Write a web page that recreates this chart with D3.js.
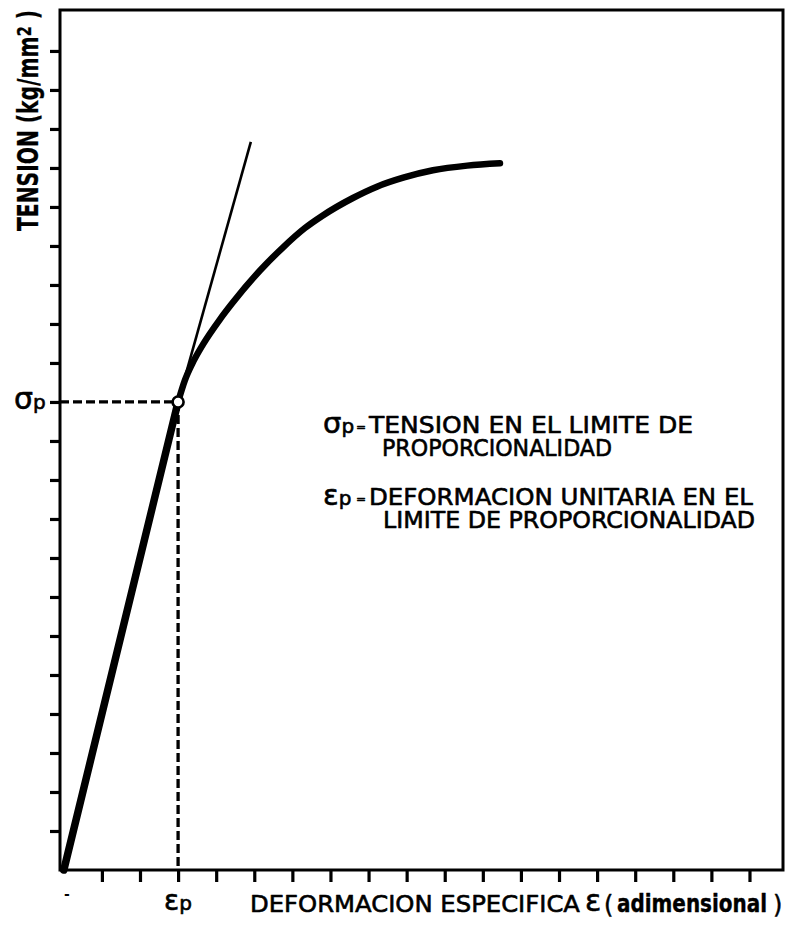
<!DOCTYPE html>
<html>
<head>
<meta charset="utf-8">
<script src="https://cdn.jsdelivr.net/npm/d3@7"></script>
<style>
  body { margin: 0; background: #fff; }
  svg { display: block; }
  text { fill: #000; }
</style>
</head>
<body>
<svg id="chart" width="787" height="931"></svg>
<script>
// Tick positions (arbitrary units) on both axes
const xTickValues = [1, 2, 3, 4, 5, 6, 7, 8, 9, 10, 11, 12, 13, 14, 15, 16, 17, 18];
const yTickValues = [1, 2, 3, 4, 5, 6, 7, 8, 9, 10, 11, 12, 13, 14, 15, 16, 17, 18, 19, 20, 21];

// Proportional limit
const epsP = 3;
const sigmaP = 12;

// Linear (elastic) branch
const elasticStrain = [0, 3];
const elasticStress = [0, 12];

// Curved branch beyond the proportional limit
const plasticStrain = [3, 3.18, 3.37, 3.65, 4.10, 4.42, 5.15, 5.75, 6.33, 6.78, 7.59, 8.22, 8.91, 9.69, 10.59, 11.45];
const plasticStress = [12, 12.56, 12.98, 13.47, 14.12, 14.53, 15.37, 15.96, 16.46, 16.77, 17.23, 17.52, 17.75, 17.94, 18.06, 18.12];

// Thin tangent prolonging the straight branch
const tangentStrain = [3, 4.91];
const tangentStress = [12, 18.67];

const svg = d3.select("#chart");
const FONT = "'DejaVu Sans', 'Liberation Sans', sans-serif";

const plot = { left: 60, right: 783, top: 10, bottom: 870 };

const x = d3.scaleLinear().domain([-0.1, 18.88]).range([plot.left, plot.right]);
const y = d3.scaleLinear().domain([0, 22.05]).range([plot.bottom, plot.top]);

// Frame
svg.append("rect")
  .attr("x", plot.left).attr("y", plot.top)
  .attr("width", plot.right - plot.left).attr("height", plot.bottom - plot.top)
  .attr("fill", "none").attr("stroke", "#000").attr("stroke-width", 3);

// Axes (ticks only, no labels)
const xAxis = svg.append("g")
  .attr("transform", `translate(0,${plot.bottom})`)
  .call(d3.axisBottom(x).tickValues(xTickValues).tickSize(12).tickSizeOuter(0).tickFormat(""));
xAxis.select(".domain").remove();
xAxis.selectAll(".tick line").attr("stroke", "#000").attr("stroke-width", 3.2);

const yAxis = svg.append("g")
  .attr("transform", `translate(${plot.left},0)`)
  .call(d3.axisLeft(y).tickValues(yTickValues).tickSize(10).tickSizeOuter(0).tickFormat(""));
yAxis.select(".domain").remove();
yAxis.selectAll(".tick line").attr("stroke", "#000").attr("stroke-width", 3.2);

// Dashed guides to the proportional limit
svg.append("line")
  .attr("x1", plot.left).attr("x2", x(epsP))
  .attr("y1", y(sigmaP)).attr("y2", y(sigmaP))
  .attr("stroke", "#000").attr("stroke-width", 3.3).attr("stroke-dasharray", "9,4");
svg.append("line")
  .attr("x1", x(epsP)).attr("x2", x(epsP))
  .attr("y1", y(sigmaP)).attr("y2", plot.bottom)
  .attr("stroke", "#000").attr("stroke-width", 3.3).attr("stroke-dasharray", "9,4");

const toPts = (xs, ys) => xs.map((v, i) => [v, ys[i]]);
const line = d3.line().x(d => x(d[0])).y(d => y(d[1]));

// Tangent (thin)
svg.append("path")
  .attr("d", line(toPts(tangentStrain, tangentStress)))
  .attr("fill", "none").attr("stroke", "#000").attr("stroke-width", 2.6);

// Elastic branch
svg.append("path")
  .attr("d", line(toPts(elasticStrain, elasticStress)))
  .attr("fill", "none").attr("stroke", "#000").attr("stroke-width", 7.5)
  .attr("stroke-linecap", "round");

// Curved branch
const curveLine = d3.line().x(d => x(d[0])).y(d => y(d[1])).curve(d3.curveMonotoneX);
svg.append("path")
  .attr("d", curveLine(toPts(plasticStrain, plasticStress)))
  .attr("fill", "none").attr("stroke", "#000").attr("stroke-width", 6.5)
  .attr("stroke-linecap", "round");

// Proportional-limit marker
svg.append("circle")
  .attr("cx", x(epsP)).attr("cy", y(sigmaP)).attr("r", 5.5)
  .attr("fill", "#fff").attr("stroke", "#000").attr("stroke-width", 2.6);

// Heavier lettering: fill plus a thin outline
function ink(sel, w) {
  return sel.attr("stroke", "#000").attr("stroke-width", w).attr("stroke-linejoin", "round");
}

// Tick labels σp and εp
const sp = ink(svg.append("text").attr("font-family", FONT)
  .attr("x", 14).attr("y", y(sigmaP) + 7), 0.6);
sp.append("tspan").attr("font-size", 30).text("σ");
sp.append("tspan").attr("font-size", 20).text("p");

const ep = ink(svg.append("text").attr("font-family", FONT)
  .attr("x", 164).attr("y", 910), 0.6);
ep.append("tspan").attr("font-size", 28).text("ε");
ep.append("tspan").attr("font-size", 20).text("p");

svg.append("text").attr("font-family", FONT).attr("font-size", 14).attr("font-weight", "bold")
  .attr("x", 64).attr("y", 899).text("-");

// X axis title
ink(svg.append("text").attr("font-family", FONT).attr("font-size", 23.5)
  .attr("x", 250).attr("y", 912)
  .attr("textLength", 330).attr("lengthAdjust", "spacingAndGlyphs")
  .text("DEFORMACION ESPECIFICA"), 0.6);
ink(svg.append("text").attr("font-family", FONT).attr("font-size", 30)
  .attr("x", 585).attr("y", 911).text("ε"), 0.6);
ink(svg.append("text").attr("font-family", FONT).attr("font-size", 24)
  .attr("x", 604).attr("y", 913).text("("), 0.5);
ink(svg.append("text").attr("font-family", FONT).attr("font-size", 24).attr("font-weight", "bold")
  .attr("x", 617).attr("y", 912)
  .attr("textLength", 150).attr("lengthAdjust", "spacingAndGlyphs")
  .text("adimensional"), 0.4);
ink(svg.append("text").attr("font-family", FONT).attr("font-size", 24)
  .attr("x", 773).attr("y", 913).text(")"), 0.5);

// Y axis title
const yt = ink(svg.append("text").attr("font-family", FONT).attr("font-size", 28).attr("font-weight", "bold")
  .attr("transform", "translate(38,231) rotate(-90)")
  .attr("textLength", 221).attr("lengthAdjust", "spacingAndGlyphs"), 0.3);
yt.append("tspan").text("TENSION (kg/mm");
yt.append("tspan").attr("font-size", 20).attr("dy", -7).text("2");
yt.append("tspan").attr("dy", 7).text(" )");

// Definitions
function symbolLine(sym, yBase) {
  const t = ink(svg.append("text").attr("font-family", FONT).attr("x", 323).attr("y", yBase), 0.6);
  t.append("tspan").attr("font-size", 29).text(sym);
  t.append("tspan").attr("font-size", 20).text("p");
  ink(svg.append("text").attr("font-family", FONT).attr("font-size", 12)
    .attr("x", 356).attr("y", yBase - 2).text("="), 0.5);
}
function defText(str, x0, x1, yBase) {
  ink(svg.append("text").attr("font-family", FONT).attr("font-size", 23.5)
    .attr("x", x0).attr("y", yBase)
    .attr("textLength", x1 - x0).attr("lengthAdjust", "spacingAndGlyphs")
    .text(str), 0.6);
}
symbolLine("σ", 433);
defText("TENSION EN EL LIMITE DE", 369, 693, 433);
defText("PROPORCIONALIDAD", 382, 612, 456);
symbolLine("ε", 505);
defText("DEFORMACION UNITARIA EN EL", 369, 753, 505);
defText("LIMITE DE PROPORCIONALIDAD", 383, 755, 528);
</script>
</body>
</html>
